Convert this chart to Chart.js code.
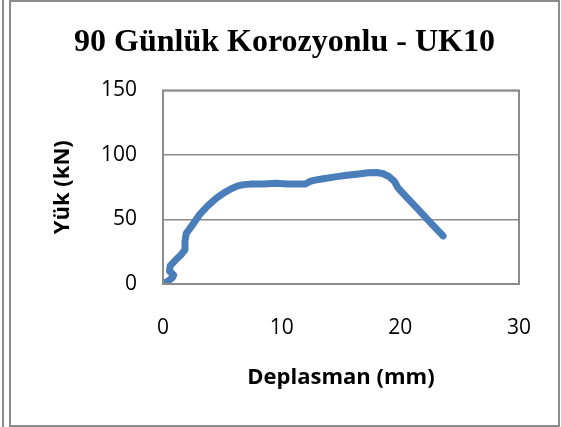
<!DOCTYPE html>
<html>
<head>
<meta charset="utf-8">
<script src="https://cdn.jsdelivr.net/npm/chart.js@4.4.1/dist/chart.umd.min.js"></script>
<style>
  html, body { margin: 0; padding: 0; background: #fff; }
  body { width: 561px; height: 427px; position: relative; overflow: hidden; }
  #strip { position: absolute; left: 2px; top: 0; width: 2px; height: 427px; background: #8c8c8c; }
  #frame { position: absolute; left: 9px; top: 0; width: 551px; height: 427px; box-sizing: border-box; border: 2px solid #8c8c8c; }
  #chart { display: block; }
</style>
</head>
<body>
<div id="strip"></div>
<div id="frame"><canvas id="chart" width="547" height="423"></canvas></div>
<script>
// Yük - deplasman eğrisi, UK10 (90 gün korozyon)
const deplasman = [0, 0.4, 0.8, 0.9, 0.55, 0.6, 1.0, 1.5, 1.85, 1.85, 1.95, 2.5, 3.1, 3.7, 4.5, 5.2, 5.8, 6.3, 6.8,
  7.5, 8.5, 9.5, 10.5, 11.5, 12.0, 12.4, 12.8, 13.5, 14.5, 15.5, 16.5, 17.3, 18.0, 18.5, 19.0, 19.5, 19.8,
  20.5, 21.5, 22.5, 23.6]
const yuk = [0.5, 2, 5, 7, 10, 14, 18, 22.5, 26.5, 33, 39, 46, 54, 60, 66.5, 71, 74, 76, 77,
  77.5, 77.5, 78, 77.5, 77.5, 77.5, 79.5, 80.5, 81.5, 83, 84.2, 85.3, 86.2, 86.4, 85.6, 83.5, 79.5, 74.5,
  67.5, 57.8, 48, 37.3]
const xTicks = [0, 10, 20, 30]
const yTicks = [0, 50, 100, 150]

const noktalar = deplasman.map((x, i) => ({ x: x, y: yuk[i] }))

// plot alanının çerçevesi
const cerceve = {
  id: 'cerceve',
  afterDatasetsDraw(chart) {
    const a = chart.chartArea
    const c = chart.ctx
    c.save()
    c.strokeStyle = '#8c8c8c'
    c.lineWidth = 2
    c.strokeRect(a.left, a.top, a.right - a.left, a.bottom - a.top)
    c.restore()
  }
}

new Chart(document.querySelector('#chart'), {
  type: 'scatter',
  data: {
    datasets: [{
      data: noktalar,
      showLine: true,
      borderColor: '#4a7ebb',
      backgroundColor: '#4a7ebb',
      borderWidth: 7,
      borderCapStyle: 'round',
      borderJoinStyle: 'round',
      pointRadius: 0,
      tension: 0
    }]
  },
  options: {
    responsive: false,
    animation: false,
    layout: { padding: 0 },
    plugins: {
      legend: { display: false },
      tooltip: { enabled: false },
      title: {
        display: true,
        text: '90 Günlük Korozyonlu - UK10',
        color: '#000',
        font: { family: 'Liberation Serif', size: 32, weight: 'bold' },
        padding: { top: 22, bottom: 28 }
      }
    },
    scales: {
      x: {
        type: 'linear',
        min: 0,
        max: 30,
        afterBuildTicks: s => { s.ticks = xTicks.map(v => ({ value: v })) },
        afterFit: s => { s.height = 141 },
        // görünmeyen tik boyu etiketleri aşağı iter
        grid: { display: false, drawTicks: true, tickLength: 31 },
        border: { display: false },
        ticks: { color: '#000', padding: 0, font: { family: 'Open Sans', size: 21 } },
        title: {
          display: true,
          text: 'Deplasman (mm)',
          color: '#000',
          font: { family: 'Open Sans', size: 22, weight: 'bold' },
          padding: { top: 0, bottom: 34 }
        }
      },
      y: {
        type: 'linear',
        min: 0,
        max: 150,
        afterBuildTicks: s => { s.ticks = yTicks.map(v => ({ value: v })) },
        afterFit: s => { s.width = 152 },
        grid: { color: '#8c8c8c', lineWidth: 1.5, drawTicks: false },
        border: { display: false },
        ticks: { color: '#000', padding: 26, font: { family: 'Open Sans', size: 21 } },
        title: {
          display: true,
          text: 'Yük (kN)',
          color: '#000',
          font: { family: 'Open Sans', size: 22, weight: 'bold' },
          padding: { top: 39, bottom: 0 }
        }
      },
      // boş sağ eksen: sağdaki boşluğu ayırır
      bosluk: {
        type: 'linear',
        position: 'right',
        display: true,
        afterFit: s => { s.width = 39 },
        grid: { display: false, drawTicks: false },
        border: { display: false },
        ticks: { display: false }
      }
    }
  },
  plugins: [cerceve]
})
</script>
</body>
</html>
